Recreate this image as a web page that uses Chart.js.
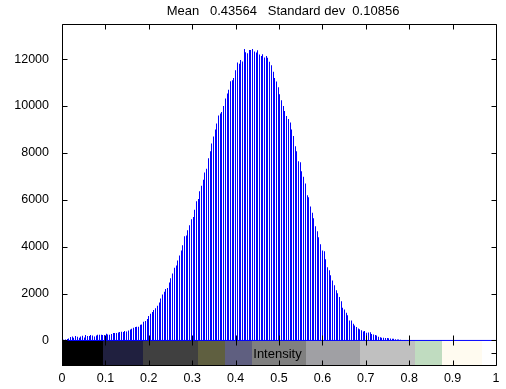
<!DOCTYPE html>
<html>
<head>
<meta charset="utf-8">
<title>Intensity histogram</title>
<script src="https://cdn.jsdelivr.net/npm/chart.js@4.4.1/dist/chart.umd.min.js"></script>
<style>
  html, body { margin: 0; padding: 0; background: #fff; }
  #wrap { width: 506px; height: 389px; }
</style>
</head>
<body>
<div id="wrap"><canvas id="hist" width="506" height="389"></canvas></div>
<script>
// pixel counts per grey level, 256 bins spread over 0..1
const counts = [
  28, 28, 43, 57, 85, 142, 171, 114, 185, 157, 114, 171, 199, 128, 228, 185,
  185, 228, 214, 171, 214, 242, 242, 242, 228, 228, 285, 256, 242, 270, 313, 313,
  313, 342, 356, 370, 356, 399, 384, 427, 470, 498, 541, 569, 584, 584, 669, 683,
  797, 830, 920, 1040, 1140, 1210, 1300, 1370, 1480, 1620, 1790, 1960, 2080, 2190, 2240, 2470,
  2650, 2860, 3100, 3200, 3410, 3620, 3840, 4060, 4440, 4480, 4700, 4910, 5170, 5270, 5580, 5940,
  6030, 6360, 6600, 6860, 7160, 7330, 7770, 8070, 8400, 8700, 9000, 9250, 9600, 9680, 9750, 10000,
  10320, 10530, 10700, 11060, 11100, 11200, 11530, 11860, 11800, 11960, 11900, 12430, 12300, 12250, 12390, 12390,
  12430, 12330, 12280, 12380, 12200, 12130, 12210, 12070, 12130, 12060, 11890, 11740, 11460, 11200, 11050, 10800,
  10500, 10250, 10000, 9790, 9580, 9450, 9300, 9000, 8720, 8290, 8070, 7640, 7600, 7220, 6980, 6700,
  6190, 6110, 5710, 5450, 5210, 4870, 4660, 4400, 4100, 3840, 3800, 3460, 3120, 2990, 2780, 2560,
  2350, 2140, 2010, 1850, 1670, 1400, 1320, 1180, 1080, 850, 850, 710, 640, 570, 510, 480,
  430, 380, 400, 330, 340, 350, 280, 250, 230, 210, 160, 140, 120, 110, 105, 100,
  90, 85, 75, 70, 55, 45, 40, 30, 20, 15, 10, 8, 5, 4, 3, 2,
  2, 1, 1, 1, 1, 0, 0, 0, 0, 0, 0, 0, 0, 0, 0, 0,
  0, 0, 0, 0, 0, 0, 0, 0, 0, 0, 0, 0, 0, 0, 0, 0,
  0, 0, 0, 0, 0, 0, 0, 0, 0, 0, 0, 0, 0, 0, 0, 0
];
const binCount = counts.length;

const baselineX = [0, 1];

const xTickValues = [0, 0.1, 0.2, 0.3, 0.4, 0.5, 0.6, 0.7, 0.8, 0.9, 1];
const xTickLabels = ['0', '0.1', '0.2', '0.3', '0.4', '0.5', '0.6', '0.7', '0.8', '0.9', '1'];
const yTickValues = [0, 2000, 4000, 6000, 8000, 10000, 12000];

// grey-level strip drawn under the zero line
const stripEdges = [0, 0.09375, 0.1875, 0.3125, 0.375, 0.4375, 0.5625, 0.6875, 0.8125, 0.875, 0.96875, 1];
const stripColors = ['#000000', '#20203f', '#404040', '#5f5f40', '#5f5f80', '#808080',
                     '#a0a0a4', '#c0c0c0', '#c0dcc0', '#fffbf0', '#ffffff'];

const titleText = 'Mean   0.43564   Standard dev  0.10856';
const xLabelText = 'Intensity';

const yMin = -1090;
const yMax = 13500;

const fontFamily = '"Liberation Sans", Arial, Helvetica, sans-serif';
const tickLen = 5;

// snap the 1px stems onto whole pixels so they stay crisp like the original
const snapBars = {
  id: 'snapBars',
  afterDatasetsUpdate(chart) {
    const meta = chart.getDatasetMeta(0);
    meta.data.forEach(el => { el.x = Math.floor(el.x) + 0.5; });
  }
};

// matlab style box: frame + inward ticks on every side, strip, labels
const axesPlugin = {
  id: 'matlabAxes',
  beforeDatasetsDraw(chart) {
    const { ctx, chartArea: a, scales: { x, y } } = chart;
    const y0 = Math.round(y.getPixelForValue(0));
    ctx.save();
    for (let i = 0; i < stripColors.length; i++) {
      const l = x.getPixelForValue(stripEdges[i]);
      const r = x.getPixelForValue(stripEdges[i + 1]);
      ctx.fillStyle = stripColors[i];
      ctx.fillRect(Math.round(l), y0, Math.round(r) - Math.round(l), a.bottom - y0);
    }
    ctx.restore();
  },
  afterDatasetsDraw(chart) {
    const { ctx, chartArea: a, scales: { x, y } } = chart;
    const y0 = Math.round(y.getPixelForValue(0)) + 0.5;
    const L = a.left + 0.5, R = a.right + 0.5, T = a.top + 0.5, B = a.bottom - 0.5;
    ctx.save();
    ctx.strokeStyle = '#000';
    ctx.lineWidth = 1;
    ctx.beginPath();
    ctx.rect(L, T, R - L, B - T);
    xTickValues.forEach(v => {
      const px = Math.round(x.getPixelForValue(v)) + 0.5;
      ctx.moveTo(px, T); ctx.lineTo(px, T + tickLen);
      ctx.moveTo(px, y0 - tickLen); ctx.lineTo(px, y0 + tickLen);
      ctx.moveTo(px, B); ctx.lineTo(px, B - tickLen);
    });
    yTickValues.forEach(v => {
      const py = Math.round(y.getPixelForValue(v)) + 0.5;
      ctx.moveTo(L, py); ctx.lineTo(L + tickLen, py);
      ctx.moveTo(R, py); ctx.lineTo(R - tickLen, py);
    });
    const pm = Math.round((y0 + a.bottom) / 2) + 0.5;
    ctx.moveTo(L, pm); ctx.lineTo(L + tickLen, pm);
    ctx.moveTo(R, pm); ctx.lineTo(R - tickLen, pm);
    ctx.stroke();

    ctx.fillStyle = '#000';
    ctx.font = '13px ' + fontFamily;
    ctx.textAlign = 'center';
    ctx.textBaseline = 'middle';
    ctx.fillText(xLabelText, x.getPixelForValue(0.4965), (y0 + a.bottom) / 2 + 1);
    ctx.fillText(titleText, (a.left + a.right) / 2 + 4, 11);
    ctx.restore();
  }
};

new Chart(document.getElementById('hist'), {
  type: 'bar',
  data: {
    datasets: [
      {
        type: 'bar',
        data: counts.map((c, i) => ({ x: i / (binCount - 1), y: c })),
        backgroundColor: '#0000ff',
        borderWidth: 0,
        inflateAmount: 0,
        barThickness: 1,
        order: 2
      },
      {
        type: 'line',
        data: baselineX.map(v => ({ x: v, y: 0 })),
        borderColor: '#0000ff',
        borderWidth: 1,
        pointRadius: 0,
        order: 1
      }
    ]
  },
  options: {
    responsive: false,
    animation: false,
    layout: { padding: { top: 24, right: 10, left: 0, bottom: 0 } },
    plugins: {
      legend: { display: false },
      tooltip: { enabled: false },
      title: { display: false }
    },
    scales: {
      x: {
        type: 'linear',
        min: 0,
        max: 1,
        offset: false,
        grid: { display: false },
        border: { display: false },
        afterBuildTicks: s => { s.ticks = xTickValues.map(v => ({ value: v })); },
        afterFit: s => { s.height = 23; },
        ticks: {
          color: '#000',
          font: { family: fontFamily, size: 12.5 },
          padding: -3,
          maxRotation: 0,
          autoSkip: false,
          callback: (v, i) => xTickLabels[i]
        }
      },
      y: {
        type: 'linear',
        min: yMin,
        max: yMax,
        grid: { display: false },
        border: { display: false },
        afterBuildTicks: s => { s.ticks = yTickValues.map(v => ({ value: v })); },
        afterFit: s => { s.width = 62; },
        ticks: {
          color: '#000',
          font: { family: fontFamily, size: 12.5 },
          padding: 5,
          callback: v => String(v)
        }
      }
    }
  },
  plugins: [snapBars, axesPlugin]
});
</script>
</body>
</html>
